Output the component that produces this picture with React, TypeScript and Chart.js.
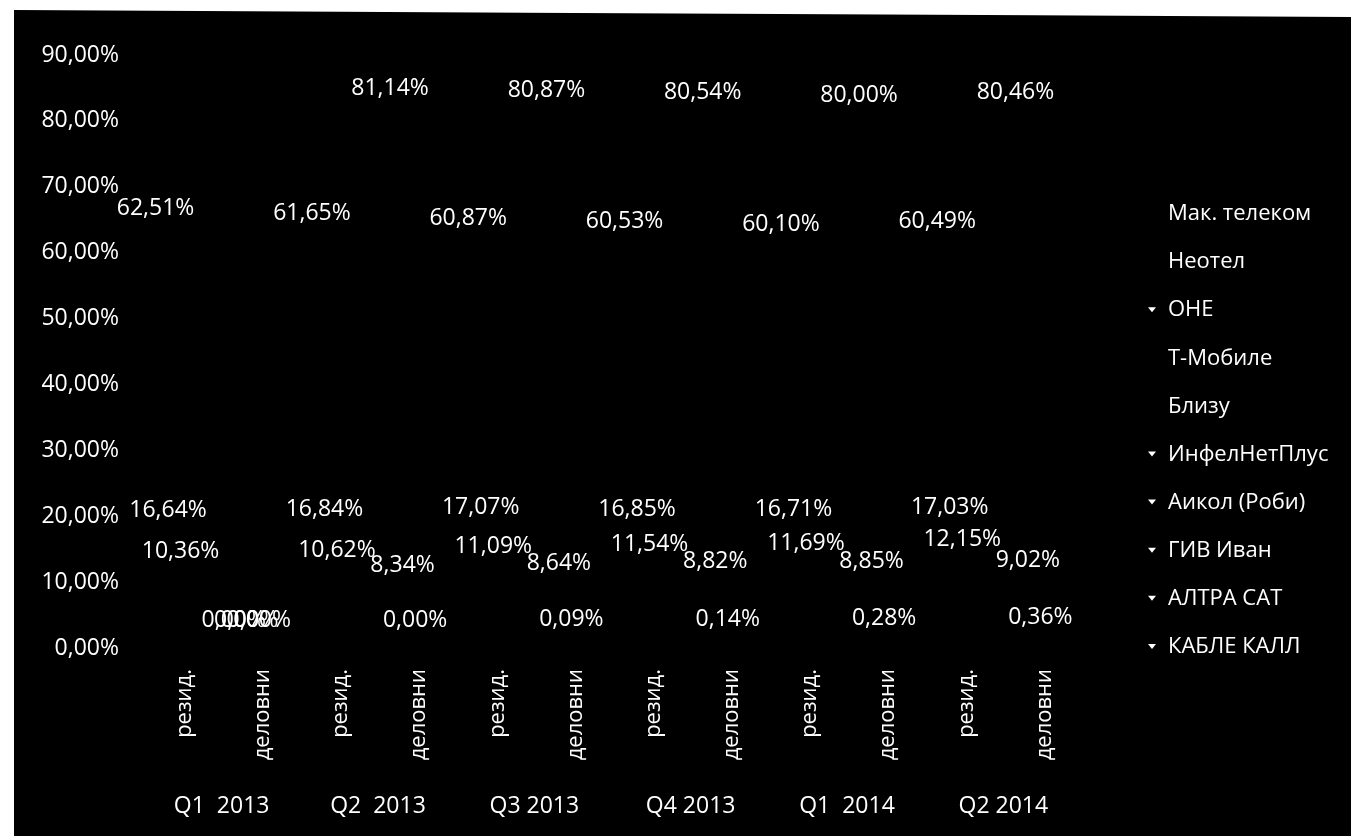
import React, { useEffect, useRef } from "react";
import { Chart, registerables } from "chart.js";

Chart.register(...registerables);

// ---- data ----
const categories = [
  "резид.", "деловни",
  "резид.", "деловни",
  "резид.", "деловни",
  "резид.", "деловни",
  "резид.", "деловни",
  "резид.", "деловни",
];
const quarters = ["Q1  2013", "Q2  2013", "Q3 2013", "Q4 2013", "Q1  2014", "Q2 2014"];
const seriesNames = [
  "Мак. телеком",
  "Неотел",
  "ОНЕ",
  "Т-Мобиле",
  "Близу",
  "ИнфелНетПлус",
  "Аикол (Роби)",
  "ГИВ Иван",
  "АЛТРА САТ",
  "КАБЛЕ КАЛЛ",
];
const makTelekom = [62.51, 0.0, 61.65, 81.14, 60.87, 80.87, 60.53, 80.54, 60.1, 80.0, 60.49, 80.46];
const neotel = [16.64, 0.0, 16.84, 8.34, 17.07, 8.64, 16.85, 8.82, 16.71, 8.85, 17.03, 9.02];
const one = [10.36, 0.0, 10.62, 0.0, 11.09, 0.09, 11.54, 0.14, 11.69, 0.28, 12.15, 0.36];
const emptySeries: (number | null)[] = [];
const seriesValues = [makTelekom, neotel, one, emptySeries, emptySeries, emptySeries, emptySeries, emptySeries, emptySeries, emptySeries];
const yMin = 0;
const yMax = 90;
const yStep = 10;

// ---- style ----
const FONT = '"Open Sans", "DejaVu Sans", sans-serif';
const W = 1337;
const H = 826;
const LEGEND_TEXT_X = 1154;
const LEGEND_TOP = 204;
const LEGEND_STEP = 48.1;
const MARKED = [2, 5, 6, 7, 8, 9];

const fmt = (v: number) => v.toFixed(2).replace(".", ",") + "%";

const labelPlugin = {
  id: "valueLabels",
  afterDatasetsDraw(chart: any) {
    const ctx = chart.ctx;
    ctx.save();
    ctx.font = `23px ${FONT}`;
    ctx.fillStyle = "#ffffff";
    ctx.textAlign = "center";
    ctx.textBaseline = "middle";
    chart.data.datasets.forEach((ds: any, di: number) => {
      const meta = chart.getDatasetMeta(di);
      meta.data.forEach((el: any, i: number) => {
        const v = ds.data[i];
        if (v === null || v === undefined) return;
        const dy = v > 70 ? 25 : 28;
        ctx.fillText(fmt(v), el.x, el.y - dy);
      });
    });
    ctx.restore();
  },
};

const legendPlugin = {
  id: "sideLegend",
  afterDraw(chart: any) {
    const ctx = chart.ctx;
    ctx.save();
    ctx.font = `22px ${FONT}`;
    ctx.fillStyle = "#ffffff";
    ctx.textAlign = "left";
    ctx.textBaseline = "middle";
    chart.data.datasets.forEach((ds: any, i: number) => {
      const y = LEGEND_TOP + i * LEGEND_STEP;
      ctx.fillText(ds.label, LEGEND_TEXT_X, y);
      if (MARKED.includes(i)) {
        ctx.beginPath();
        ctx.moveTo(LEGEND_TEXT_X - 20, y - 3);
        ctx.lineTo(LEGEND_TEXT_X - 12, y - 3);
        ctx.lineTo(LEGEND_TEXT_X - 16, y + 2);
        ctx.closePath();
        ctx.fill();
      }
    });
    ctx.restore();
  },
};

export default function App() {
  const ref = useRef<HTMLCanvasElement | null>(null);

  useEffect(() => {
    if (!ref.current) return;
    const chart = new Chart(ref.current, {
      type: "bar",
      data: {
        labels: categories,
        datasets: seriesNames.map((name, i) => ({
          label: name,
          data: seriesValues[i],
          backgroundColor: "rgba(0,0,0,0)",
          borderWidth: 0,
          categoryPercentage: 0.48,
          barPercentage: 0.9,
        })),
      },
      options: {
        responsive: false,
        animation: false,
        skipNull: true,
        layout: { padding: { top: 45, left: 0, right: W - 1053, bottom: 8 } },
        plugins: {
          legend: { display: false },
          tooltip: { enabled: false },
          title: { display: false },
        },
        scales: {
          x: {
            type: "category",
            position: "bottom",
            weight: 0,
            offset: true,
            grid: { display: false, drawTicks: false },
            border: { display: false },
            ticks: {
              autoSkip: false,
              minRotation: 90,
              maxRotation: 90,
              padding: 21,
              labelOffset: 16.5,
              color: "#ffffff",
              font: { family: FONT, size: 22 },
            },
            afterFit: (s: any) => {
              s.height = 120;
            },
          },
          x2: {
            type: "category",
            position: "bottom",
            weight: 1,
            labels: quarters,
            offset: true,
            grid: { display: false, drawTicks: false },
            border: { display: false },
            ticks: {
              autoSkip: false,
              maxRotation: 0,
              padding: 25,
              labelOffset: 14.5,
              color: "#ffffff",
              font: { family: FONT, size: 23 },
            },
            afterFit: (s: any) => {
              s.height = 60;
            },
          },
          y: {
            min: yMin,
            max: yMax,
            grid: { display: false, drawTicks: false },
            border: { display: false },
            ticks: {
              stepSize: yStep,
              padding: 10,
              color: "#ffffff",
              font: { family: FONT, size: 23 },
              callback: (v: any) => fmt(Number(v)),
            },
            afterFit: (s: any) => {
              s.width = 115;
            },
          },
        },
      } as any,
      plugins: [labelPlugin, legendPlugin],
    });
    return () => chart.destroy();
  }, []);

  return (
    <div
      style={{
        position: "absolute",
        left: 14,
        top: 10,
        width: W,
        height: H,
        background: "#000",
        overflow: "hidden",
      }}
    >
      <canvas ref={ref} width={W} height={H} style={{ display: "block" }} />
      <div
        style={{
          position: "absolute",
          left: 0,
          top: 0,
          width: 0,
          height: 0,
          borderTop: "7px solid #fff",
          borderLeft: `${W}px solid transparent`,
        }}
      />
    </div>
  );
}
